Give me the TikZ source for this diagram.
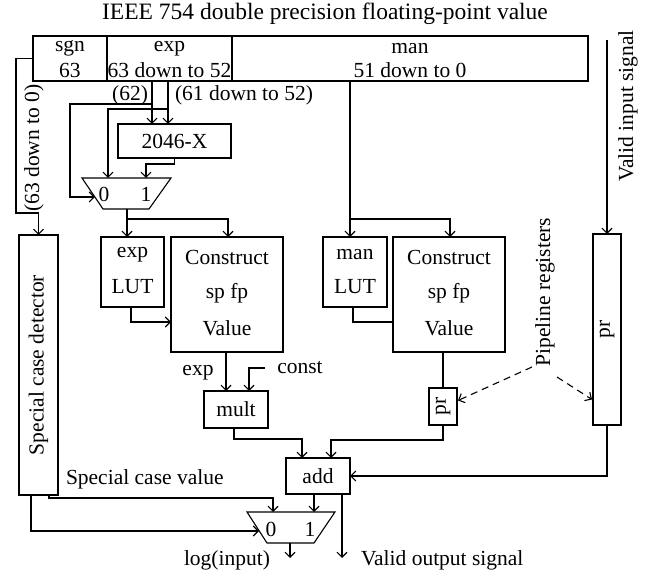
\documentclass[tikz,border=0pt]{standalone}
\usepackage{fontspec}
\setmainfont{Liberation Serif}
\usetikzlibrary{arrows.meta,calc}
\begin{document}
\begin{tikzpicture}[x=1pt,y=-1pt,
  line width=1.1pt,
  font=\fontsize{21.5}{25}\selectfont,
  box/.style={draw, line width=1.1pt, inner sep=0pt, outer sep=0pt, align=center},
  txt/.style={inner sep=0pt, outer sep=0pt},
  arr/.style={-{Straight Barb[length=5pt,width=10pt,line width=1.1pt]}},
  dasharr/.style={arr, dash pattern=on 7pt off 5pt}
]
\useasboundingbox (0,0) rectangle (649,575);

% title
\node[txt, font=\fontsize{23.5}{27}\selectfont] (title) at (325,14) {IEEE 754 double precision floating-point value};

% top register fields
\node[box, minimum width=74pt, minimum height=45pt] (sgn) at (70,58.5) {};
\node[box, minimum width=125pt, minimum height=45pt] (exp) at (169.5,58.5) {};
\node[box, minimum width=356pt, minimum height=45pt] (man) at (410,58.5) {};
\node[txt] (sgnA) at (70,48.5) {sgn};
\node[txt] (sgnB) at (70,70.5) {63};
\node[txt] (expA) at (169.5,48.5) {exp};
\node[txt] (expB) at (169.5,70.5) {63 down to 52};
\node[txt] (manA) at (410,48.5) {man};
\node[txt] (manB) at (410,70.5) {51 down to 0};

% boxes
\node[box, minimum width=113pt, minimum height=34pt] (x2046) at (174.5,141) {2046-X};
\node[box, minimum width=63pt, minimum height=70pt] (expLUT) at (132.5,272) {};
\node[txt] (expLUTa) at (132.5,255) {exp};
\node[txt] (expLUTb) at (132.5,287) {LUT};
\node[box, minimum width=112pt, minimum height=115pt] (con1) at (227,294.5) {};
\node[txt] (con1a) at (227,257) {Construct};
\node[txt] (con1b) at (227,293) {sp fp};
\node[txt] (con1c) at (227,328) {Value};
\node[box, minimum width=64pt, minimum height=70pt] (manLUT) at (355,272) {};
\node[txt] (manLUTa) at (355,255) {man};
\node[txt] (manLUTb) at (355,287) {LUT};
\node[box, minimum width=112pt, minimum height=115pt] (con2) at (449,294.5) {};
\node[txt] (con2a) at (449,257) {Construct};
\node[txt] (con2b) at (449,293) {sp fp};
\node[txt] (con2c) at (449,328) {Value};
\node[box, minimum width=64pt, minimum height=37pt] (mult) at (236,409.5) {mult};
\node[box, minimum width=28pt, minimum height=37pt] (pr1) at (443,406.5) {\rotatebox{90}{pr}};
\node[box, minimum width=28pt, minimum height=191pt] (prR) at (607,329.5) {\rotatebox{90}{pr}};
\node[box, minimum width=64pt, minimum height=36pt] (add) at (318,476) {add};
\node[box, minimum width=39pt, minimum height=260pt] (det) at (38.5,365) {\rotatebox{90}{Special case detector}};

% multiplexer 1
\draw (82,178) -- (171,178) -- (149,209) -- (103,209) -- cycle;
\node[txt] (m1zero) at (104,194) {0};
\node[txt] (m1one) at (146,194) {1};
\coordinate (m1in0) at (108,178);
\coordinate (m1in1) at (146,178);
\coordinate (m1sel) at (95,197);
\coordinate (m1out) at (127,209);

% multiplexer 2
\draw (247,512) -- (335,512) -- (314,543) -- (267,543) -- cycle;
\node[txt] (m2zero) at (271,529) {0};
\node[txt] (m2one) at (310,529) {1};
\coordinate (m2in0) at (273,512);
\coordinate (m2in1) at (314,512);
\coordinate (m2sel) at (259,531);
\coordinate (m2out) at (290,543);

% labels
\node[txt, anchor=east] (l62) at (148,95) {(62)};
\node[txt, anchor=west] (l61) at (175,95) {(61 down to 52)};
\node[txt, rotate=90] (l63) at (34,148) {(63 down to 0)};
\node[txt, rotate=90] (lvin) at (628,106) {Valid input signal};
\node[txt, rotate=90] (pipe) at (545,292) {Pipeline registers};
\node[txt] (lexp) at (198,373) {exp};
\node[txt] (lconst) at (300,368) {const};
\node[txt, anchor=west] (lscv) at (66,479) {Special case value};
\node[txt, anchor=east] (llog) at (270,560) {log(input)};
\node[txt, anchor=west] (lvout) at (361,560) {Valid output signal};

% connectors: sign to detector
\coordinate (j1) at (16,213);
\draw[arr] (sgn.west) -| (j1) -| (det.north);

% exponent bits
\coordinate (e62) at (152,81);
\coordinate (e61) at (168,81);
\draw[arr] (e62) -- (e62 |- x2046.north);
\draw[arr] (e61) -- (e61 |- x2046.north);
\coordinate (b62) at (152,104);
\coordinate (c62) at (70,197);
\draw[arr] (b62) -| (c62) -- (m1sel);
\coordinate (b61) at (168,109);
\draw[arr] (b61) -| (m1in0);
\draw[arr] (x2046.south) -- ++(0,6) -| (m1in1);

% mux1 output
\coordinate (j2) at (127,219);
\draw[arr] (m1out) -- (m1out |- expLUT.north);
\draw[arr] (j2) -| (228,237);
\coordinate (k1) at (171,322);
\draw[arr] (131,307) |- (k1);
\draw[arr] (226,352) -- (226,391);
\coordinate (cst) at (265,368);
\draw[arr] (cst) -| (249,391);
\draw[arr] (234,428) -- (234,439) -| (302,458);

% mantissa
\coordinate (mtop) at (350,81);
\coordinate (j3) at (350,219);
\draw[arr] (mtop) -- (mtop |- manLUT.north);
\draw[arr] (j3) -| (450,237);
\draw (353,307) |- (con2.west |- 0,322);
\draw (pr1.north |- con2.south) -- (pr1.north);
\draw[arr] (pr1.south) -- ++(0,15) -| (331,458);

% valid signal
\coordinate (vin) at (607,40);
\draw[arr] (vin) -- (prR.north);
\draw[arr] (prR.south) |- (add.east);

% pipeline annotations
\coordinate (p1) at (532,367);
\coordinate (p2) at (557,377);
\draw[dasharr] (p1) -- ($(pr1.east)+(1,-6)$);
\draw[dasharr] (p2) -- ($(prR.west)+(-1,70)$);

% add outputs
\draw[arr] (add.south -| m2in1) -- (m2in1);
\draw[arr] (342,494) -- (342,558);

% detector outputs
\draw[arr] (49,495) -- (49,498) -| (m2in0);
\draw[arr] (31,495) |- (m2sel);

% final output
\draw[arr] (m2out) -- ++(0,15);
\end{tikzpicture}
\end{document}
